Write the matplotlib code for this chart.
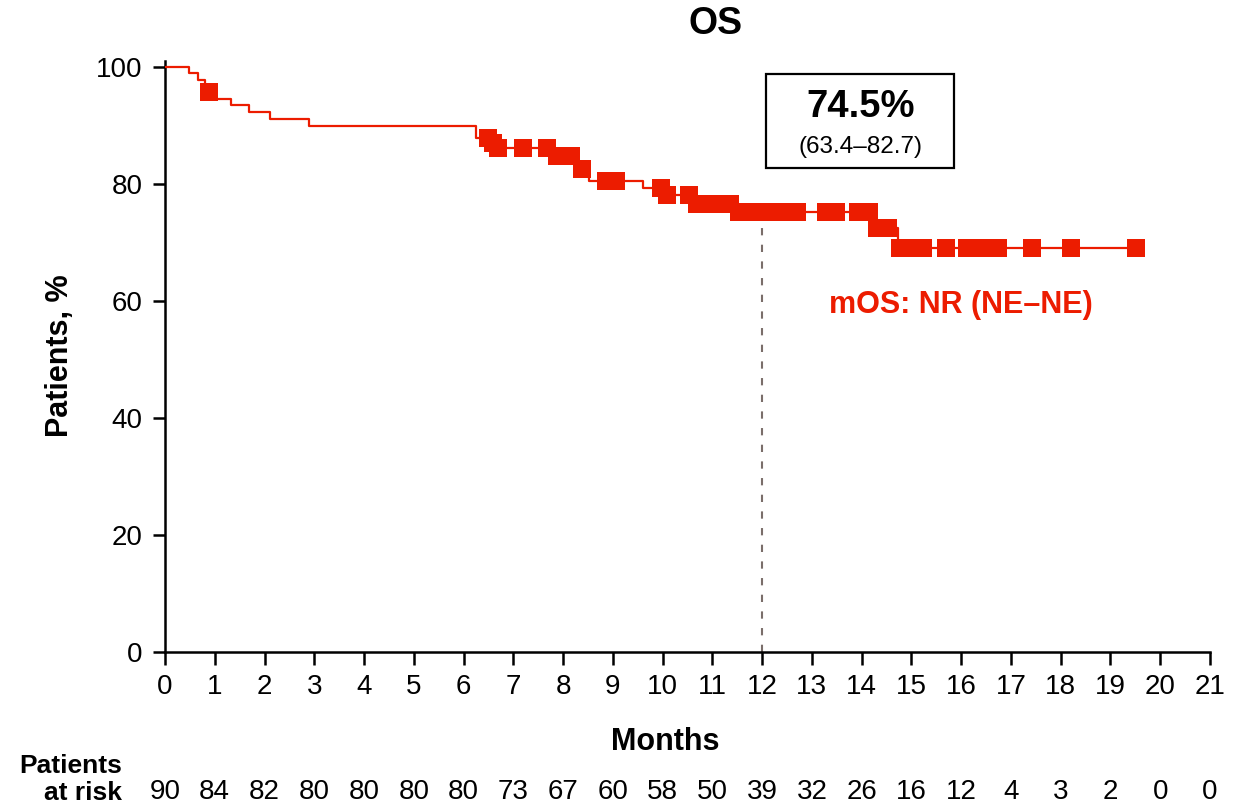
import numpy as np
import matplotlib
matplotlib.use('Agg')
import matplotlib.pyplot as plt
from matplotlib.patches import Rectangle
from matplotlib.transforms import blended_transform_factory

plt.rcParams['font.family'] = ['Liberation Sans', 'DejaVu Sans']

# Kaplan-Meier steps (months, % surviving)
step_times = [0, 0.49, 0.67, 0.80, 0.93, 1.33, 1.69, 2.12, 2.89, 6.25, 6.57, 6.65,
              7.75, 8.30, 8.52, 9.61, 10.03, 10.60, 11.45, 14.25, 14.74]
step_surv = [100, 98.9, 97.8, 95.6, 94.5, 93.4, 92.2, 91.1, 89.9, 87.8, 87.0, 86.1,
             84.8, 82.6, 80.5, 79.3, 78.0, 76.5, 75.1, 72.4, 69.1]
last_followup = 19.6

# censored patients (months)
censor_times = [0.89, 6.50, 6.60, 6.70, 7.20, 7.68, 7.87, 8.15, 8.39, 8.87, 9.06,
                9.97, 10.09, 10.54, 10.70, 10.92, 11.15, 11.35, 11.54, 11.75, 11.95,
                12.15, 12.35, 12.55, 12.71, 13.28, 13.48, 13.93, 14.15, 14.31, 14.54,
                14.77, 15.00, 15.23, 15.69, 16.12, 16.43, 16.75, 17.42, 18.20, 19.52]

months = list(range(0, 22))
at_risk = [90, 84, 82, 80, 80, 80, 80, 73, 67, 60, 58, 50, 39, 32, 26, 16, 12, 4, 3, 2, 0, 0]

landmark = 12
landmark_rate = '74.5%'
landmark_ci = '(63.4\u201382.7)'
median_text = 'mOS: NR (NE\u2013NE)'

red = '#ec1c00'

fig = plt.figure(figsize=(12.48, 8.10), dpi=100)
ax = fig.add_axes([0.1322, 0.195, 0.8373, 0.7299])

t = np.array(step_times + [last_followup])
s = np.array(step_surv + [step_surv[-1]])
ax.step(t, s, where='post', color=red, lw=1.6, zorder=3)

idx = np.searchsorted(step_times, censor_times, side='right') - 1
ax.plot(censor_times, np.array(step_surv)[idx], ls='none', marker='s',
        markersize=13.4, color=red, markeredgewidth=0, zorder=4)

ax.plot([landmark, landmark], [0, 73.3], color='#7a6e6a', lw=1.5,
        dashes=(3.5, 4.5), zorder=2)

ax.set_xlim(0, 21)
ax.set_ylim(0, 101)
ax.set_xticks(months)
ax.set_yticks([0, 20, 40, 60, 80, 100])
ax.spines['top'].set_visible(False)
ax.spines['right'].set_visible(False)
for sp in ['left', 'bottom']:
    ax.spines[sp].set_linewidth(1.8)
ax.tick_params(direction='out', length=9, width=1.8, labelsize=20, pad=7)

ax.set_xlabel('Months', fontsize=22, fontweight='bold')
ax.xaxis.set_label_coords(0.479, -0.1265)
ax.set_ylabel('Patients, %', fontsize=22, fontweight='bold')
ax.yaxis.set_label_coords(-0.086, 0.502)

fig.text(716 / 1248, 1 - 23.5 / 810, 'OS', fontsize=27, fontweight='bold',
         ha='center', va='center')

# landmark box
ax.add_patch(Rectangle((12.08, 82.7), 3.78, 16.05, fill=False, lw=1.6,
                       edgecolor='black', clip_on=False, zorder=5))
ax.text(13.97, 93.1, landmark_rate, fontsize=27.5, fontweight='bold',
        ha='center', va='center')
ax.text(13.97, 86.3, landmark_ci, fontsize=17.5, ha='center', va='center')

ax.text(16.0, 59.3, median_text, color=red, fontsize=22, fontweight='bold',
        ha='center', va='center')

# number at risk table
trans = blended_transform_factory(ax.transData, ax.transAxes)
for m, n in zip(months, at_risk):
    ax.text(m, (652 - 792) / 591.2, str(n), transform=trans, fontsize=20,
            ha='center', va='center')
ax.text(122 / 1248, 1 - 766 / 810, 'Patients', transform=fig.transFigure,
        fontsize=19, fontweight='bold', ha='right', va='center')
ax.text(122 / 1248, 1 - 793 / 810, 'at risk', transform=fig.transFigure,
        fontsize=19, fontweight='bold', ha='right', va='center')

fig.savefig('out.png', dpi=100)
